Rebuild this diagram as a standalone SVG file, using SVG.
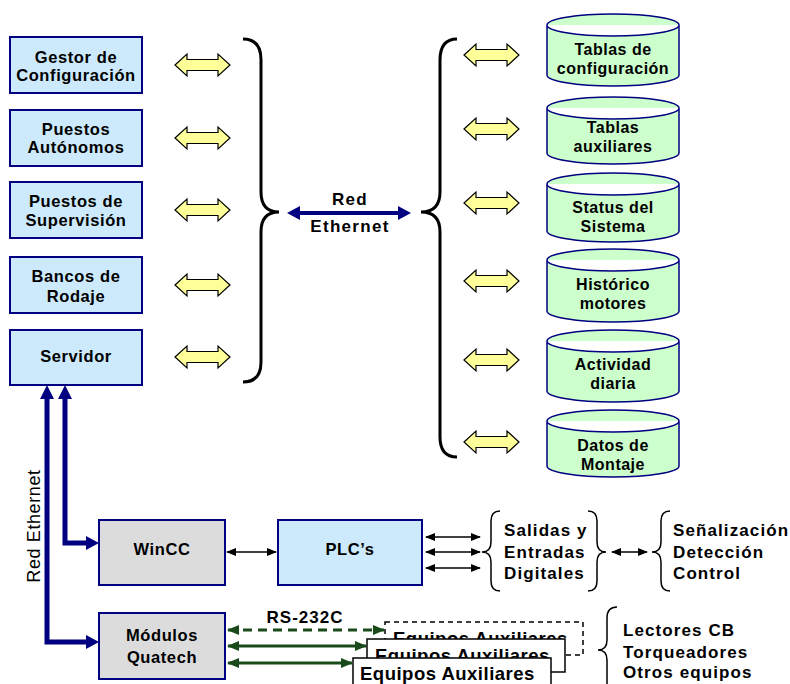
<svg xmlns="http://www.w3.org/2000/svg" xmlns:xlink="http://www.w3.org/1999/xlink" width="790" height="684" viewBox="0 0 790 684">
<style>
.t{font-family:"Liberation Sans",Arial,sans-serif;font-weight:bold;fill:#000;}
.bx{font-size:16.5px;letter-spacing:0.6px;text-anchor:middle;}
.cy{font-size:16px;letter-spacing:0.5px;text-anchor:middle;}
.lt{font-size:17px;letter-spacing:1.1px;}
.blue{fill:#cceafb;stroke:#000080;stroke-width:2;}
.gray{fill:#dcdcdc;stroke:#000080;stroke-width:2;}
.cyl{fill:#ccffcc;stroke:#000080;stroke-width:1.5;}
.ya{fill:#ffff99;stroke:#000;stroke-width:1.2;}
.brace{fill:none;stroke:#000;stroke-width:3;}
.sbrace{fill:none;stroke:#000;stroke-width:1.5;}
.navy{fill:none;stroke:#000080;stroke-width:5;}
.blk{fill:none;stroke:#000;stroke-width:1.5;marker-start:url(#bh);marker-end:url(#bh);}
.grn{fill:none;stroke:#1a4a1a;stroke-width:3;marker-start:url(#gh);marker-end:url(#gh);}
.eq{fill:#fff;stroke:#000;stroke-width:1.5;}
.eqt{font-size:18.5px;letter-spacing:0.5px;}
</style>
<defs>
<path id="yarrow" class="ya" d="M0,0 L12,-11 L12,-5.5 L43,-5.5 L43,-11 L55,0 L43,11 L43,5.5 L12,5.5 L12,11 Z"/>
<marker id="bh" viewBox="0 0 10 8" refX="9" refY="4" markerWidth="10" markerHeight="8" markerUnits="userSpaceOnUse" orient="auto-start-reverse"><path d="M0,0 L10,4 L0,8 Z" fill="#000"/></marker>
<marker id="gh" viewBox="0 0 12 10" refX="11" refY="5" markerWidth="12" markerHeight="10" markerUnits="userSpaceOnUse" orient="auto-start-reverse"><path d="M0,0 L12,5 L0,10 Z" fill="#1a4a1a"/></marker>
<clipPath id="c1"><rect x="380" y="615" width="210" height="24"/></clipPath>
<clipPath id="c2"><rect x="360" y="635" width="210" height="23"/></clipPath>
</defs>
<rect width="790" height="684" fill="#fff"/>

<g id="gestor"><rect class="blue" x="10" y="37" width="132" height="56"/><text class="t bx" x="76" y="63">Gestor de</text><text class="t bx" x="76" y="81">Configuración</text></g>
<g id="autonomos"><rect class="blue" x="10" y="110" width="132" height="56"/><text class="t bx" x="76" y="135">Puestos</text><text class="t bx" x="76" y="153">Autónomos</text></g>
<g id="supervision"><rect class="blue" x="10" y="182" width="132" height="56"/><text class="t bx" x="76" y="207">Puestos de</text><text class="t bx" x="76" y="226">Supervisión</text></g>
<g id="bancos"><rect class="blue" x="10" y="257" width="132" height="56"/><text class="t bx" x="76" y="282">Bancos de</text><text class="t bx" x="76" y="302">Rodaje</text></g>
<g id="servidor"><rect class="blue" x="10" y="330" width="132" height="55"/><text class="t bx" x="76" y="362">Servidor</text></g>

<g id="cyl1"><path class="cyl" d="M547,25 A66,11 0 0 1 679,25 L679,75 A66,11 0 0 1 547,75 Z M547,25 A66,11 0 0 0 679,25"/><text class="t cy" x="613" y="55">Tablas de</text><text class="t cy" x="613" y="74">configuración</text></g>
<g id="cyl2"><path class="cyl" d="M547,108 A66,11 0 0 1 679,108 L679,153 A66,11 0 0 1 547,153 Z M547,108 A66,11 0 0 0 679,108"/><text class="t cy" x="613" y="133">Tablas</text><text class="t cy" x="613" y="152">auxiliares</text></g>
<g id="cyl3"><path class="cyl" d="M547,184 A66,11 0 0 1 679,184 L679,231 A66,11 0 0 1 547,231 Z M547,184 A66,11 0 0 0 679,184"/><text class="t cy" x="613" y="213">Status del</text><text class="t cy" x="613" y="232">Sistema</text></g>
<g id="cyl4"><path class="cyl" d="M547,260 A66,11 0 0 1 679,260 L679,311 A66,11 0 0 1 547,311 Z M547,260 A66,11 0 0 0 679,260"/><text class="t cy" x="613" y="290">Histórico</text><text class="t cy" x="613" y="309">motores</text></g>
<g id="cyl5"><path class="cyl" d="M547,341 A66,11 0 0 1 679,341 L679,391 A66,11 0 0 1 547,391 Z M547,341 A66,11 0 0 0 679,341"/><text class="t cy" x="613" y="370">Actividad</text><text class="t cy" x="613" y="389">diaria</text></g>
<g id="cyl6"><path class="cyl" d="M547,421 A66,11 0 0 1 679,421 L679,466 A66,11 0 0 1 547,466 Z M547,421 A66,11 0 0 0 679,421"/><text class="t cy" x="613" y="451">Datos de</text><text class="t cy" x="613" y="470">Montaje</text></g>

<g id="wincc"><rect class="gray" x="99" y="520" width="126" height="65"/><text class="t bx" x="162" y="555">WinCC</text></g>
<g id="plc"><rect class="blue" x="278" y="520" width="144" height="65"/><text class="t bx" x="350" y="555">PLC’s</text></g>
<g id="quatech"><rect class="gray" x="99" y="613" width="126" height="66"/><text class="t bx" x="162" y="641">Módulos</text><text class="t bx" x="162" y="663">Quatech</text></g>

<g id="salidas"><path class="sbrace" d="M500,511 Q491,511 491,521 L491,542 Q491,552 482,552 Q491,552 491,562 L491,581 Q491,591 500,591"/><path class="sbrace" d="M588,511 Q597,511 597,521 L597,542 Q597,552 606,552 Q597,552 597,562 L597,581 Q597,591 588,591"/><text class="t lt" x="504" y="536">Salidas y</text><text class="t lt" x="504" y="558">Entradas</text><text class="t lt" x="504" y="579">Digitales</text></g>
<g id="senal"><path class="sbrace" d="M670,511 Q661,511 661,521 L661,542 Q661,552 652,552 Q661,552 661,562 L661,581 Q661,591 670,591"/><text class="t lt" x="673" y="536">Señalización</text><text class="t lt" x="673" y="558">Detección</text><text class="t lt" x="673" y="579">Control</text></g>

<g id="equipos"><rect x="385" y="622" width="198" height="33" fill="#fff" stroke="#000" stroke-width="1.5" stroke-dasharray="5,4"/><text class="t eqt" x="393" y="645" clip-path="url(#c1)">Equipos Auxiliares</text><rect class="eq" x="367" y="639" width="198" height="33"/><text class="t eqt" x="375" y="662" clip-path="url(#c2)">Equipos Auxiliares</text><rect class="eq" x="353" y="658" width="198" height="40"/><text class="t eqt" x="360" y="680">Equipos Auxiliares</text></g>
<g id="lectores"><path class="sbrace" d="M617,607 Q607,607 607,618 L607,640 Q607,650 598,650 Q607,650 607,660 L607,700"/><text class="t lt" x="623" y="636">Lectores CB</text><text class="t lt" x="623" y="658">Torqueadores</text><text class="t lt" x="623" y="678">Otros equipos</text></g>

<g id="connectors">
<use xlink:href="#yarrow" x="175" y="65"/><use xlink:href="#yarrow" x="175" y="138"/><use xlink:href="#yarrow" x="175" y="210"/><use xlink:href="#yarrow" x="175" y="285"/><use xlink:href="#yarrow" x="175" y="357"/>
<use xlink:href="#yarrow" x="464" y="55"/><use xlink:href="#yarrow" x="464" y="129"/><use xlink:href="#yarrow" x="464" y="203"/><use xlink:href="#yarrow" x="464" y="281"/><use xlink:href="#yarrow" x="464" y="360"/><use xlink:href="#yarrow" x="464" y="442"/>
<path class="brace" d="M243,39 Q261,39 261,60 L261,192 Q261,212 279,212 Q261,212 261,232 L261,362 Q261,382 243,382"/>
<path class="brace" d="M457,39 Q440,39 440,60 L440,192 Q440,212 421,212 Q440,212 440,232 L440,437 Q440,457 457,457"/>
<line x1="298" y1="213" x2="400" y2="213" stroke="#000080" stroke-width="4"/>
<path d="M287,213 L300,206 L300,220 Z M411,213 L398,206 L398,220 Z" fill="#000080"/>
<text class="t" x="350" y="205" font-size="17" letter-spacing="1.3" text-anchor="middle">Red</text>
<text class="t" x="350" y="232" font-size="17" letter-spacing="1.3" text-anchor="middle">Ethernet</text>
<path class="navy" d="M47,398 L47,642 L88,642"/>
<path class="navy" d="M65,398 L65,543 L88,543"/>
<path d="M47,385 L40,399 L54,399 Z M65,385 L58,399 L72,399 Z M99,642 L86,635 L86,649 Z M99,543 L86,536 L86,550 Z" fill="#000080"/>
<text x="40" y="526" transform="rotate(-90 40 526)" font-family="Liberation Sans,Arial,sans-serif" font-size="18" letter-spacing="0.6" text-anchor="middle">Red Ethernet</text>
<line class="blk" x1="227" y1="552" x2="276" y2="552"/>
<line class="blk" x1="426" y1="537" x2="480" y2="537"/>
<line class="blk" x1="426" y1="552" x2="480" y2="552"/>
<line class="blk" x1="426" y1="568" x2="480" y2="568"/>
<line class="blk" x1="612" y1="552" x2="647" y2="552"/>
<line class="grn" x1="228" y1="630" x2="384" y2="630" stroke-dasharray="9,6"/>
<line class="grn" x1="228" y1="646" x2="366" y2="646"/>
<line class="grn" x1="228" y1="663" x2="352" y2="663"/>
<text class="t" x="305" y="623" font-size="17" letter-spacing="1" text-anchor="middle">RS-232C</text>
</g>
</svg>
